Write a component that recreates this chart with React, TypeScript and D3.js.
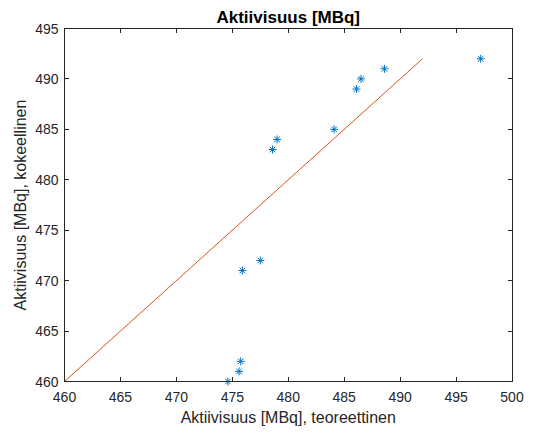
import React, { useEffect, useRef } from "react";
import * as d3 from "d3";

// measured (theoretical) activity, MBq
const teoreettinen = [497.2, 488.6, 486.5, 486.1, 484.1, 479.0, 478.6, 477.5, 475.9, 475.75, 475.6, 474.6];
// experimental activity, MBq
const kokeellinen = [492, 491, 490, 489, 485, 484, 483, 472, 471, 462, 461, 460];
// reference line y = x
const refLine = [460, 492];

const xTicks = [460, 465, 470, 475, 480, 485, 490, 495, 500];
const yTicks = [460, 465, 470, 475, 480, 485, 490, 495];

const W = 534;
const H = 434;

export default function App() {
  const ref = useRef<SVGSVGElement>(null);

  useEffect(() => {
    const svg = d3.select(ref.current);
    svg.selectAll("*").remove();

    const left = 64.5, right = 512, top = 28.5, bottom = 381.5;
    const x = d3.scaleLinear().domain([460, 500]).range([left, right]);
    const y = d3.scaleLinear().domain([460, 495]).range([bottom, top]);
    const axisCol = "#262626";
    const font = "'Liberation Sans', Arial, Helvetica, sans-serif";

    svg.append("rect").attr("width", W).attr("height", H).attr("fill", "#fff");

    // ref line
    svg.append("path")
      .datum(refLine)
      .attr("d", d3.line<number>().x((d) => x(d)).y((d) => y(d)))
      .attr("stroke", "#D95319")
      .attr("stroke-width", 1)
      .attr("fill", "none");

    // asterisk markers
    const pts = teoreettinen.map((t, i) => ({ t, k: kokeellinen[i] }));
    const s = 4;
    const g = svg.append("g").attr("stroke", "#0072BD").attr("stroke-width", 1).attr("fill", "none");
    g.selectAll("path")
      .data(pts)
      .join("path")
      .attr("transform", (d) => `translate(${x(d.t)},${y(d.k)})`)
      .attr("d", `M${-s},0H${s}M0,${-s}V${s}M${-s * 0.7},${-s * 0.7}L${s * 0.7},${s * 0.7}M${-s * 0.7},${s * 0.7}L${s * 0.7},${-s * 0.7}`);

    // axes box
    const ax = svg.append("g").attr("stroke", axisCol).attr("stroke-width", 1).attr("fill", "none").attr("shape-rendering", "crispEdges");
    ax.append("rect").attr("x", left).attr("y", top).attr("width", right - left).attr("height", bottom - top);

    const tl = 4.5;
    xTicks.forEach((v) => {
      ax.append("line").attr("x1", x(v)).attr("x2", x(v)).attr("y1", bottom).attr("y2", bottom - tl);
      ax.append("line").attr("x1", x(v)).attr("x2", x(v)).attr("y1", top).attr("y2", top + tl);
    });
    yTicks.forEach((v) => {
      ax.append("line").attr("x1", left).attr("x2", left + tl).attr("y1", y(v)).attr("y2", y(v));
      ax.append("line").attr("x1", right).attr("x2", right - tl).attr("y1", y(v)).attr("y2", y(v));
    });

    // tick labels
    svg.append("g").selectAll("text").data(xTicks).join("text")
      .attr("x", (d) => x(d)).attr("y", bottom + 20)
      .attr("text-anchor", "middle")
      .attr("font-family", font).attr("font-size", 14).attr("fill", axisCol)
      .text((d) => d);
    svg.append("g").selectAll("text").data(yTicks).join("text")
      .attr("x", left - 6).attr("y", (d) => y(d) + 5)
      .attr("text-anchor", "end")
      .attr("font-family", font).attr("font-size", 14).attr("fill", axisCol)
      .text((d) => d);

    // title + labels
    svg.append("text")
      .attr("x", (left + right) / 2).attr("y", 23)
      .attr("text-anchor", "middle")
      .attr("font-family", font).attr("font-size", 17).attr("font-weight", "bold").attr("fill", "#000")
      .text("Aktiivisuus [MBq]");
    svg.append("text")
      .attr("x", (left + right) / 2).attr("y", 423)
      .attr("text-anchor", "middle")
      .attr("font-family", font).attr("font-size", 16).attr("fill", axisCol)
      .text("Aktiivisuus [MBq], teoreettinen");
    svg.append("text")
      .attr("transform", `translate(26,${(top + bottom) / 2}) rotate(-90)`)
      .attr("text-anchor", "middle")
      .attr("font-family", font).attr("font-size", 16).attr("fill", axisCol)
      .text("Aktiivisuus [MBq], kokeellinen");
  }, []);

  return <svg ref={ref} width={W} height={H} style={{ position: "absolute", left: 0, top: 0, display: "block" }} />;
}
